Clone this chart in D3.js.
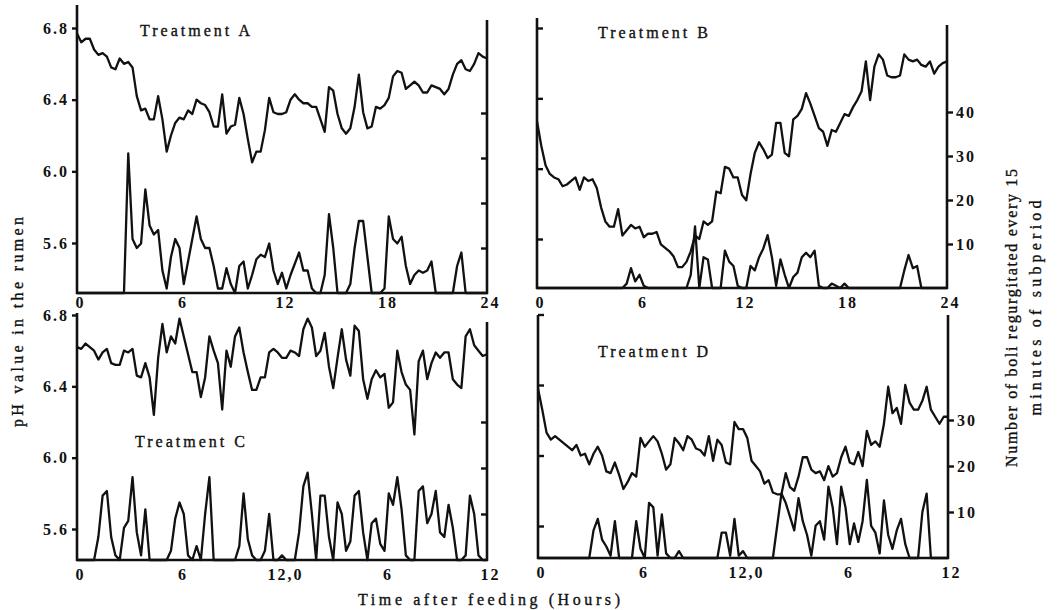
<!DOCTYPE html>
<html>
<head>
<meta charset="utf-8">
<script src="https://cdn.jsdelivr.net/npm/d3@7"></script>
<style>
body { margin: 0; background: #fff; }
text { font-family: "Liberation Serif", "DejaVu Serif", serif; fill: #111; stroke: #111; stroke-width: 0.35px; }
.tk text { font-size: 16px; letter-spacing: 2px; font-weight: bold; stroke-width: 0; }
</style>
</head>
<body>
<svg width="1063" height="610"></svg>
<script>
// one value every 15 min subperiod, 0..24 h
var step = 0.25;

var phA = [6.77,6.72,6.74,6.74,6.68,6.65,6.66,6.64,6.58,6.57,
	6.63,6.60,6.61,6.58,6.42,6.34,6.35,6.29,6.29,6.42,
	6.29,6.11,6.20,6.27,6.30,6.29,6.34,6.32,6.40,6.38,
	6.37,6.33,6.25,6.25,6.43,6.21,6.25,6.26,6.41,6.32,
	6.18,6.05,6.11,6.11,6.23,6.41,6.33,6.32,6.32,6.33,
	6.40,6.43,6.40,6.38,6.38,6.36,6.36,6.29,6.22,6.47,
	6.45,6.32,6.24,6.21,6.24,6.36,6.54,6.33,6.24,6.25,
	6.36,6.35,6.37,6.41,6.53,6.56,6.55,6.46,6.48,6.50,
	6.48,6.44,6.44,6.48,6.47,6.46,6.43,6.46,6.54,6.60,
	6.62,6.57,6.56,6.60,6.66,6.64,6.63];
var boliA = [0,0,0,0,0,0,0,0,0,0,
	0,0,31,12,10,11,23,15,13,14,
	5,1,8,12,10,2,7,12,17,12,
	10,10,6,1,1,5.5,2,0,6,7,
	1,4,7.5,8.5,8,11,5,2,4.5,1,
	4,6.5,9,5,5,1,0,0,4,17.5,
	10,0,0,0,2,10,16,16,8,0,
	0,0,1,17,12,11,12.5,6,2,4,
	5,4.5,5,7,0,0,0,0,0,6,
	9,0,0,0,0,0,0];

var phB = [6.27,6.13,6.02,5.97,5.95,5.94,5.90,5.91,5.93,5.95,
	5.88,5.95,5.93,5.94,5.89,5.78,5.70,5.67,5.67,5.77,
	5.62,5.65,5.68,5.66,5.67,5.61,5.63,5.63,5.64,5.57,
	5.55,5.53,5.50,5.44,5.44,5.47,5.53,5.62,5.60,5.70,
	5.68,5.70,5.87,5.86,6.01,6.00,5.95,5.95,5.85,5.82,
	5.97,6.09,6.15,6.11,6.06,6.08,6.26,6.26,6.09,6.07,
	6.28,6.30,6.34,6.43,6.37,6.30,6.23,6.21,6.13,6.22,
	6.21,6.26,6.31,6.30,6.35,6.39,6.44,6.61,6.39,6.58,
	6.65,6.62,6.53,6.52,6.52,6.53,6.65,6.62,6.61,6.62,
	6.59,6.58,6.61,6.54,6.58,6.60,6.61];
var boliB = [0,0,0,0,0,0,0,0,0,0,
	0,0,0,0,0,0,0,0,0,0,
	0,1,4.5,1.5,3,0.5,0,0,0,0,
	0,0,0,0,0,0,3,14,0,7,
	6.5,0,0,0,8.5,6,5,0.5,0,0,
	5,4,7,9,12,7,0.5,6.5,3,0,
	2.5,3.5,7,8,7,8.5,0.5,0,0,1,
	0.5,0,1,0,0,0,0,0,0,0,
	0,0,0,0,0,0,4,7.5,4.5,5,
	0,0,0,0,0,0,0];

var phC = [6.62,6.61,6.64,6.62,6.60,6.55,6.59,6.61,6.53,6.52,
	6.52,6.60,6.59,6.61,6.46,6.45,6.53,6.45,6.24,6.56,
	6.75,6.59,6.68,6.64,6.78,6.68,6.58,6.48,6.48,6.34,
	6.45,6.68,6.60,6.53,6.27,6.60,6.51,6.68,6.73,6.59,
	6.48,6.38,6.38,6.45,6.45,6.59,6.61,6.59,6.56,6.56,
	6.60,6.59,6.57,6.72,6.78,6.73,6.57,6.60,6.70,6.51,
	6.39,6.56,6.72,6.55,6.46,6.74,6.71,6.44,6.33,6.44,
	6.49,6.45,6.47,6.28,6.31,6.60,6.48,6.41,6.38,6.13,
	6.54,6.60,6.44,6.53,6.59,6.56,6.59,6.59,6.44,6.41,
	6.39,6.68,6.72,6.63,6.60,6.57,6.58];
var boliC = [0,0,0,0,0,5,14,15,5,1,
	0,7,8.5,18,6,1,11,0,0,0,
	0,0,2,9,12.5,10,1,0,3,0,
	10,18,0,0,0,0,0,0,3,14.5,
	4.5,1,0,0,2,10,0,0,1,0,
	0,0,6,16,19,10,0,14,14,5,
	0,12.5,10,2,4,14,15,6,0,8,
	9,3.5,2,14.5,12,18,11,1,0,0,
	15,16,8,10,15,6,5,12,7,0,
	0,1,14,10,1,0,0];

var phD = [6.38,6.26,6.13,6.09,6.11,6.09,6.07,6.05,6.03,6.06,
	6.00,6.01,5.95,6.01,6.05,6.00,5.91,5.90,5.96,5.89,
	5.81,5.85,5.90,5.88,6.10,6.05,6.08,6.11,6.08,6.01,
	5.92,5.95,6.10,6.07,6.03,6.11,6.09,6.04,6.03,6.00,
	6.11,5.97,6.09,6.06,5.96,5.95,6.19,6.15,6.15,6.10,
	5.97,5.94,5.91,5.84,5.86,5.79,5.78,5.78,5.90,5.82,
	5.80,5.88,5.99,5.99,5.92,5.90,5.91,5.86,5.94,5.88,
	5.90,5.99,6.05,5.96,5.95,6.02,5.94,6.14,6.06,6.08,
	6.05,6.18,6.39,6.24,6.27,6.18,6.40,6.30,6.26,6.26,
	6.31,6.39,6.26,6.22,6.18,6.22,6.22];
var boliD = [0,0,0,0,0,0,0,0,0,0,
	0,0,0,6,8.5,4,2.5,0.5,8,0,
	0,0,0,8,2,0,12,11,0.5,9.5,
	1,0,0,1.5,0,0,0,0,0,0,
	0,0,0,5.5,5.5,0.5,8.5,0.5,1.5,0,
	0,0,0,0,0,0,7,14,12,9,
	6,13,8,5,0.5,7,8,4,15.5,11,
	3,15.5,11,3,7.5,3.5,8,17,7,5.5,
	1,12.5,5,2,6,8.5,3,0,0,0,
	10,14,0,0,0,0,0];

var hourTicks = [0, 6, 12, 18, 24];
var topLabels = ['0', '6', '12', '18', '24'];
var bottomLabels = ['0', '6', '12,0', '6', '12'];
var phTicks = [5.6, 6.0, 6.4, 6.8];
var boliTicksTop = [10, 20, 30, 40];
var boliTicksBottom = [10, 20, 30];

var svg = d3.select('svg');

var panels = [
	{title: 'Treatment A', ph: phA, boli: boliA, x0: 77, x1: 487, top: 5, rtop: 20, bot: 293,
	 y68: 28, y56: 243, y10: 248, phLabels: true, labY: 303, xl: topLabels, bt: boliTicksTop, tx: 140, ty: 36},
	{title: 'Treatment B', ph: phB, boli: boliB, x0: 537, x1: 947, top: 18, rtop: 25, bot: 288,
	 y68: 28, y56: 239, y10: 244, phLabels: false, labY: 303, xl: topLabels, bt: boliTicksTop, tx: 598, ty: 38},
	{title: 'Treatment C', ph: phC, boli: boliC, x0: 77, x1: 487, top: 313, rtop: 322, bot: 560,
	 y68: 315, y56: 529, y10: 514, phLabels: true, labY: 575, xl: bottomLabels, bt: boliTicksBottom, tx: 135, ty: 447},
	{title: 'Treatment D', ph: phD, boli: boliD, x0: 538, x1: 948, top: 315, rtop: 315, bot: 558,
	 y68: 314.5, y56: 526, y10: 512, phLabels: false, labY: 573, xl: bottomLabels, bt: boliTicksBottom, tx: 598, ty: 357}
];

panels.forEach(function(p){
	var g = svg.append('g');
	var x = d3.scaleLinear().domain([0, 24]).range([p.x0, p.x1]);
	var yPh = d3.scaleLinear().domain([5.6, 6.8]).range([p.y56, p.y68]);
	var yB = d3.scaleLinear().domain([0, 10]).range([p.bot, p.y10]);

	// frame
	g.append('line').attr('x1', p.x0).attr('x2', p.x0).attr('y1', p.top).attr('y2', p.bot + 1);
	g.append('line').attr('x1', p.x1).attr('x2', p.x1).attr('y1', p.rtop).attr('y2', p.bot + 1);
	g.append('line').attr('x1', p.x0 - 1).attr('x2', p.x1 + 1).attr('y1', p.bot).attr('y2', p.bot);
	g.selectAll('line').attr('stroke', '#111').attr('stroke-width', 2.6);

	// pH axis (left)
	var la = p.phLabels
		? d3.axisLeft(yPh).tickSize(5).tickPadding(3).tickFormat(d3.format('.1f'))
		: d3.axisRight(yPh).tickSize(6).tickFormat('');
	la.tickValues(phTicks);
	g.append('g').attr('class', 'tk').attr('transform', 'translate(' + p.x0 + ',0)').call(la);

	// boli axis (right)
	var ra = p.phLabels
		? d3.axisLeft(yB).tickSize(6).tickFormat('')
		: d3.axisRight(yB).tickSize(6).tickPadding(3);
	ra.tickValues(p.bt);
	g.append('g').attr('class', 'tk').attr('transform', 'translate(' + p.x1 + ',0)').call(ra);

	// hour labels
	var xa = d3.axisBottom(x).tickValues(hourTicks).tickSize(0).tickPadding(0)
		.tickFormat(function(d, i){ return p.xl[i]; });
	g.append('g').attr('class', 'tk').attr('transform', 'translate(3,' + (p.labY - 6) + ')').call(xa);

	g.selectAll('.tk .domain').remove();
	g.selectAll('.tk line').attr('stroke', '#111').attr('stroke-width', 2.4);
	g.selectAll('.tk').attr('font-family', null).attr('font-size', null);

	var phLine = d3.line()
		.x(function(d, i){ return x(i * step); })
		.y(function(d){ return yPh(d); });
	var boliLine = d3.line()
		.x(function(d, i){ return x(i * step); })
		.y(function(d){ return yB(d); });

	g.append('path').datum(p.ph).attr('d', phLine)
		.attr('fill', 'none').attr('stroke', '#111').attr('stroke-width', 2.3).attr('stroke-linejoin', 'round');
	g.append('path').datum(p.boli).attr('d', boliLine)
		.attr('fill', 'none').attr('stroke', '#111').attr('stroke-width', 2.3).attr('stroke-linejoin', 'round');

	g.append('text').attr('x', p.tx).attr('y', p.ty)
		.attr('textLength', 110).attr('lengthAdjust', 'spacing')
		.style('font-size', '16px').text(p.title);
});

// axis titles
svg.append('text')
	.attr('transform', 'translate(23,322) rotate(-90)')
	.attr('text-anchor', 'middle').attr('textLength', 210).attr('lengthAdjust', 'spacing')
	.style('font-size', '16px').text('pH value in the rumen');
svg.append('text')
	.attr('transform', 'translate(1017,318) rotate(-90)')
	.attr('text-anchor', 'middle').attr('textLength', 298).attr('lengthAdjust', 'spacing')
	.style('font-size', '16px').text('Number of boli regurgitated every 15');
svg.append('text')
	.attr('transform', 'translate(1041,308) rotate(-90)')
	.attr('text-anchor', 'middle').attr('textLength', 215).attr('lengthAdjust', 'spacing')
	.style('font-size', '16px').text('minutes of subperiod');
svg.append('text')
	.attr('x', 358).attr('y', 605).attr('textLength', 262).attr('lengthAdjust', 'spacing')
	.style('font-size', '16px').text('Time after feeding (Hours)');
</script>
</body>
</html>
